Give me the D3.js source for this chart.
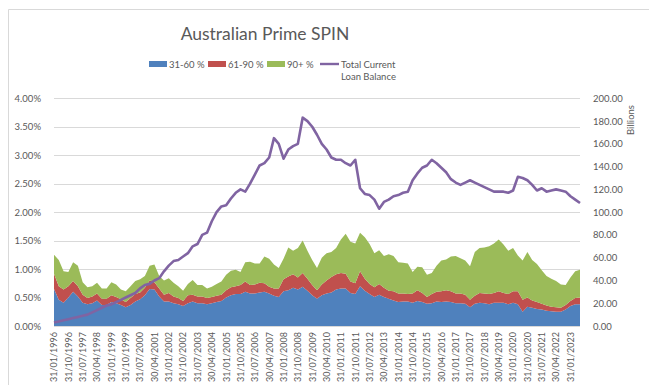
<!DOCTYPE html>
<html>
<head>
<meta charset="utf-8">
<script src="https://cdn.jsdelivr.net/npm/d3@7"></script>
<style>
  html, body { margin: 0; padding: 0; background: #fff; }
  svg { display: block; font-family: Lato, "Open Sans", sans-serif; }
</style>
</head>
<body>
<svg id="chart" width="649" height="385"></svg>
<script>
// Quarter-end reporting dates, Jan 1996 – Jul 2023
const quarterEnds = [["01", "31"], ["04", "30"], ["07", "31"], ["10", "31"]];
const categories = [];
for (let y = 1996; categories.length < 111; y++) {
  for (const [m, d] of quarterEnds) {
    if (categories.length < 111) categories.push(`${d}/${m}/${y}`);
  }
}

// Arrears rates by bucket, % of loan balance
const arrears31to60 = [0.65,0.46,0.41,0.50,0.60,0.52,0.41,0.38,0.40,0.45,0.37,0.37,0.42,0.40,0.37,0.33,0.37,0.43,0.47,0.54,
  0.65,0.64,0.52,0.43,0.43,0.40,0.38,0.35,0.40,0.43,0.40,0.40,0.38,0.40,0.42,0.44,0.50,0.54,0.56,0.56,
  0.60,0.57,0.57,0.59,0.60,0.57,0.53,0.51,0.61,0.63,0.67,0.64,0.69,0.62,0.54,0.48,0.54,0.57,0.59,0.64,
  0.66,0.66,0.58,0.56,0.70,0.62,0.56,0.51,0.55,0.51,0.48,0.45,0.42,0.43,0.43,0.41,0.44,0.42,0.39,0.40,
  0.43,0.42,0.43,0.42,0.40,0.40,0.39,0.33,0.39,0.41,0.40,0.38,0.41,0.41,0.41,0.38,0.41,0.38,0.25,0.34,
  0.32,0.30,0.29,0.27,0.26,0.25,0.25,0.29,0.35,0.38,0.38];
const arrears61to90 = [0.27,0.24,0.23,0.20,0.19,0.18,0.14,0.11,0.12,0.12,0.11,0.11,0.12,0.11,0.10,0.09,0.12,0.13,0.12,0.13,
  0.15,0.13,0.14,0.12,0.15,0.12,0.11,0.09,0.14,0.12,0.12,0.12,0.11,0.11,0.11,0.11,0.13,0.14,0.14,0.16,
  0.18,0.15,0.16,0.17,0.15,0.12,0.13,0.15,0.21,0.24,0.24,0.21,0.24,0.21,0.18,0.15,0.19,0.23,0.27,0.27,
  0.27,0.26,0.20,0.19,0.26,0.21,0.18,0.17,0.19,0.16,0.14,0.16,0.15,0.14,0.13,0.16,0.19,0.16,0.12,0.16,
  0.17,0.19,0.20,0.19,0.17,0.17,0.16,0.13,0.14,0.17,0.17,0.18,0.17,0.20,0.17,0.18,0.20,0.23,0.21,0.16,
  0.13,0.12,0.10,0.09,0.08,0.08,0.07,0.08,0.09,0.11,0.12];
const arrears90plus = [0.33,0.46,0.32,0.25,0.33,0.36,0.22,0.19,0.18,0.19,0.18,0.18,0.23,0.22,0.17,0.19,0.21,0.23,0.23,0.21,
  0.26,0.31,0.22,0.25,0.26,0.24,0.21,0.18,0.20,0.26,0.20,0.20,0.17,0.18,0.21,0.23,0.27,0.29,0.29,0.23,
  0.34,0.41,0.37,0.34,0.47,0.49,0.42,0.36,0.36,0.51,0.41,0.52,0.57,0.49,0.44,0.39,0.47,0.48,0.44,0.46,
  0.59,0.70,0.70,0.70,0.68,0.73,0.70,0.60,0.59,0.56,0.64,0.62,0.55,0.54,0.54,0.38,0.41,0.45,0.39,0.37,
  0.46,0.54,0.54,0.61,0.66,0.62,0.60,0.59,0.77,0.79,0.81,0.84,0.87,0.91,0.85,0.76,0.76,0.63,0.69,0.80,
  0.71,0.67,0.59,0.52,0.49,0.46,0.41,0.35,0.41,0.47,0.49];
// Total current loan balance, $ billions
const loanBalance = [3,4,5,6,7,8,9,10,12,14,16,18,19,21,23,25,27,29,33,36,
  37,40,42,48,53,57,58,61,64,70,72,80,82,92,100,105,106,112,117,120,
  118,125,133,141,143,148,165,160,147,155,158,160,183,180,175,168,160,155,148,146,
  146,143,141,146,121,116,115,111,103,109,111,114,115,117,118,128,134,139,141,146,
  143,139,135,129,126,124,126,128,126,124,122,120,118,118,118,117,119,131,130,128,
  124,119,121,118,119,120,119,118,114,111,108];

const leftTicks = [0, 0.5, 1, 1.5, 2, 2.5, 3, 3.5, 4];
const rightTicks = [0, 20, 40, 60, 80, 100, 120, 140, 160, 180, 200];
const seriesNames = ["31-60 %", "61-90 %", "90+ %"];
const lineName = ["Total Current", "Loan Balance"];

const colors = { "31-60 %": "#4F81BD", "61-90 %": "#C0504D", "90+ %": "#9BBB59", line: "#8064A2" };
const textColor = "#595959";

const svg = d3.select("#chart");
const plot = { left: 54, right: 580, top: 98.3, bottom: 326 };

// chart frame
svg.append("path")
  .attr("d", `M8.5,400 V9.5 H649`)
  .attr("fill", "none").attr("stroke", "#d9d9d9").attr("stroke-width", 1);

const x = d3.scalePoint().domain(categories).range([plot.left, plot.right]);
const yL = d3.scaleLinear().domain([0, 4]).range([plot.bottom, plot.top]);
const yR = d3.scaleLinear().domain([0, 200]).range([plot.bottom, plot.top]);

// gridlines
svg.append("g").selectAll("line").data(leftTicks).join("line")
  .attr("x1", plot.left).attr("x2", plot.right)
  .attr("y1", d => Math.round(yL(d)) + 0.5).attr("y2", d => Math.round(yL(d)) + 0.5)
  .attr("stroke", "#d9d9d9").attr("stroke-width", 1);

// stacked arrears areas
const rows = categories.map((c, i) => ({
  date: c,
  "31-60 %": arrears31to60[i],
  "61-90 %": arrears61to90[i],
  "90+ %": arrears90plus[i]
}));
const stacked = d3.stack().keys(seriesNames)(rows);
const area = d3.area()
  .x(d => x(d.data.date))
  .y0(d => yL(d[0]))
  .y1(d => yL(d[1]));
svg.append("g").selectAll("path").data(stacked).join("path")
  .attr("d", area)
  .attr("fill", d => colors[d.key]);

// loan balance line on the secondary axis
const line = d3.line().x((d, i) => x(categories[i])).y(d => yR(d));
svg.append("path")
  .datum(loanBalance)
  .attr("d", line)
  .attr("fill", "none")
  .attr("stroke", colors.line)
  .attr("stroke-width", 2.6)
  .attr("stroke-linejoin", "round");

// left axis
const axL = svg.append("g").attr("transform", `translate(${plot.left - 10},0)`)
  .call(d3.axisLeft(yL).tickValues(leftTicks).tickSize(0).tickFormat(d => d.toFixed(2) + "%"));
axL.select(".domain").remove();
axL.selectAll("text").attr("fill", textColor).style("font-size", "9.5px").attr("font-family", "Lato, sans-serif");

// right axis
const axR = svg.append("g").attr("transform", `translate(${plot.right + 10},0)`)
  .call(d3.axisRight(yR).tickValues(rightTicks).tickSize(0).tickFormat(d => d.toFixed(2)));
axR.select(".domain").remove();
axR.selectAll("text").attr("fill", textColor).style("font-size", "9.5px").attr("font-family", "Lato, sans-serif");

svg.append("text")
  .attr("transform", `translate(634,120) rotate(-90)`)
  .attr("text-anchor", "middle")
  .attr("fill", textColor)
  .style("font-size", "9.5px")
  .text("Billions");

// category axis, every third quarter labelled
const axX = svg.append("g").attr("transform", `translate(0,${plot.bottom})`)
  .call(d3.axisBottom(x).tickValues(categories.filter((c, i) => i % 3 === 0)).tickSize(0));
axX.select(".domain").remove();
axX.selectAll("text")
  .attr("fill", textColor)
  .style("font-size", "9px")
  .attr("font-family", "Lato, sans-serif")
  .attr("text-anchor", "end")
  .attr("transform", "rotate(-90)")
  .attr("x", -6).attr("y", 0).attr("dy", "0.32em");

// title
svg.append("text")
  .attr("x", 265).attr("y", 40)
  .attr("text-anchor", "middle")
  .attr("fill", textColor)
  .style("font-size", "17.5px")
  .text("Australian Prime SPIN");

// legend
const legend = svg.append("g").style("font-size", "9.5px").attr("fill", textColor);
const swatchX = [149, 208, 267];
seriesNames.forEach((name, i) => {
  legend.append("rect").attr("x", swatchX[i]).attr("y", 61).attr("width", 18).attr("height", 6).attr("fill", colors[name]);
  legend.append("text").attr("x", swatchX[i] + 20).attr("y", 67.5).text(name);
});
legend.append("line").attr("x1", 320).attr("x2", 339).attr("y1", 64).attr("y2", 64)
  .attr("stroke", colors.line).attr("stroke-width", 2.4);
legend.append("text").attr("x", 341).attr("y", 67.5).text(lineName[0]);
legend.append("text").attr("x", 341).attr("y", 79.5).text(lineName[1]);
</script>
</body>
</html>
